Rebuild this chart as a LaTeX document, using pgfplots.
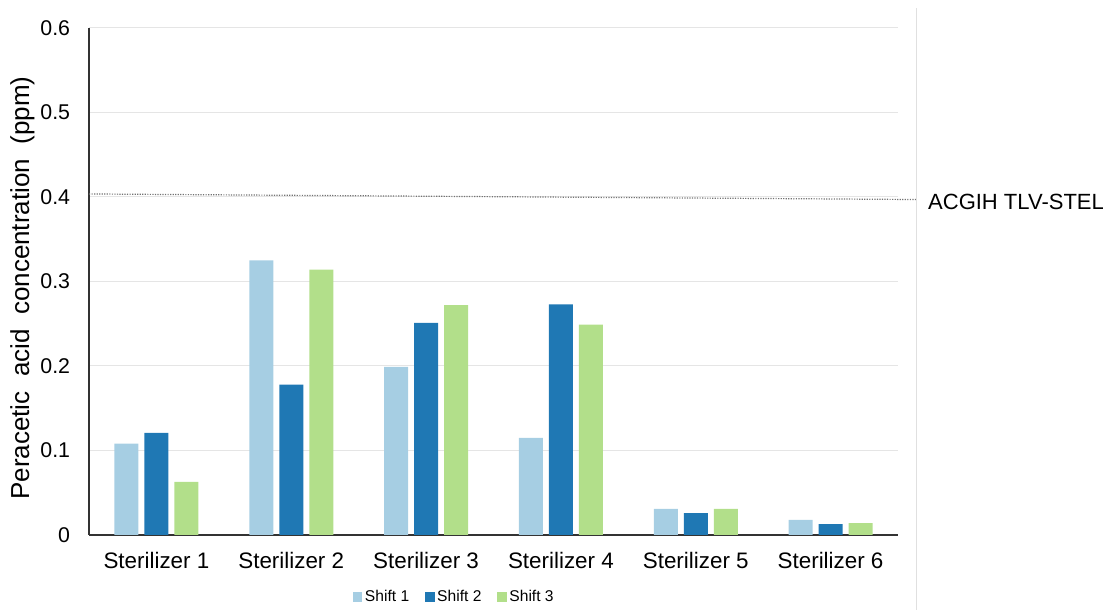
\documentclass[border=0pt]{standalone}
\usepackage{fontspec}
\setmainfont{Liberation Sans}
\usepackage{pgfplots}
\pgfplotsset{compat=1.18}

\definecolor{shiftA}{HTML}{A6CEE3}
\definecolor{shiftB}{HTML}{1F78B4}
\definecolor{shiftC}{HTML}{B2DF8A}

\begin{document}
\begin{tikzpicture}
\useasboundingbox (0,0) rectangle (831pt,457.5pt);
\begin{axis}[
  at={(66.75pt,56.25pt)}, anchor=south west,
  scale only axis, width=606.75pt, height=380.25pt,
  xmin=-0.5, xmax=5.5, ymin=0, ymax=0.6,
  ybar, bar width=18pt,
  xtick={0,1,2,3,4,5},
  xticklabels={Sterilizer 1,Sterilizer 2,Sterilizer 3,Sterilizer 4,Sterilizer 5,Sterilizer 6},
  ytick={0,0.1,0.2,0.3,0.4,0.5,0.6},
  yticklabels={0,0.1,0.2,0.3,0.4,0.5,0.6},
  axis x line*=bottom, axis y line*=left,
  axis line style={draw=black!80, line width=1.1pt, -},
  ymajorgrids, grid style={black!10, line width=0.75pt},
  major tick length=0pt,
  /pgf/number format/assume math mode=true,
  tick label style={font=\fontsize{16}{19}\selectfont},
  yticklabel style={inner sep=0pt, xshift=-14pt},
  xticklabel style={inner sep=0pt, yshift=-13pt, font=\fontsize{16.8}{20}\selectfont},
  ylabel={Peracetic\ \ acid\ \ concentration\ \ (ppm)},
  ylabel style={at={(axis description cs:-0.0824,0.487)}, anchor=center, rotate=0,
    font=\fontsize{19.5}{23}\selectfont, inner sep=0pt},
  clip=false,
  legend columns=3,
  legend style={at={(axis description cs:0.452,-0.1223)}, anchor=center, draw=none,
    font=\fontsize{11.7}{14}\selectfont, inner sep=0pt,
    /tikz/every even column/.append style={column sep=10pt}},
  legend image code/.code={\fill[#1] (0pt,-3.5pt) rectangle (7pt,3.5pt);},
]
% measured concentrations per sterilizer and shift
\addplot[fill=shiftA, draw=none, bar shift=-22.5pt] coordinates
  {(0,0.108) (1,0.325) (2,0.199) (3,0.115) (4,0.031) (5,0.018)};
\addplot[fill=shiftB, draw=none, bar shift=0pt] coordinates
  {(0,0.121) (1,0.178) (2,0.251) (3,0.273) (4,0.026) (5,0.013)};
\addplot[fill=shiftC, draw=none, bar shift=22.5pt] coordinates
  {(0,0.063) (1,0.314) (2,0.272) (3,0.249) (4,0.031) (5,0.014)};
\legend{Shift 1,Shift 2,Shift 3}

% exposure limit reference line
\addplot[forget plot, sharp plot, densely dotted, black!55, line width=0.9pt] coordinates
  {(-0.5,0.4036) (5.634,0.397)};
\draw[black!12, line width=0.75pt] (axis cs:5.634,-0.09) -- (axis cs:5.634,0.6237);
\node[anchor=west, inner sep=0pt, font=\fontsize{16.5}{20}\selectfont]
  at (axis cs:5.722,0.394) {ACGIH TLV-STEL};
\end{axis}
\end{tikzpicture}
\end{document}
